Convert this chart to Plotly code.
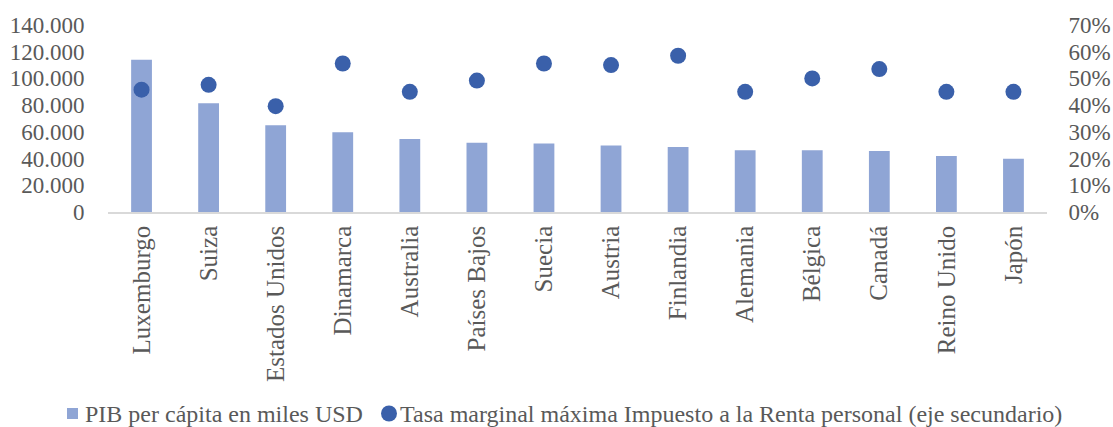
import plotly.graph_objects as go

paises = ["Luxemburgo", "Suiza", "Estados Unidos", "Dinamarca", "Australia", "Países Bajos",
          "Suecia", "Austria", "Finlandia", "Alemania", "Bélgica", "Canadá", "Reino Unido", "Japón"]
pib = [114000, 81500, 65000, 59700, 54700, 51900, 51200, 49700, 48700, 46200, 46200, 45700, 41900, 39900]
tasa = [0.458, 0.476, 0.396, 0.556, 0.45, 0.492, 0.556, 0.55, 0.585, 0.45, 0.50, 0.535, 0.45, 0.45]

y_ticks = [0, 20000, 40000, 60000, 80000, 100000, 120000, 140000]
y_ticktext = ["0", "20.000", "40.000", "60.000", "80.000", "100.000", "120.000", "140.000"]
y2_ticks = [0, 0.1, 0.2, 0.3, 0.4, 0.5, 0.6, 0.7]
y2_ticktext = ["0%", "10%", "20%", "30%", "40%", "50%", "60%", "70%"]

name_bar = "PIB per cápita en miles USD"
name_dot = "Tasa marginal máxima Impuesto a la Renta personal (eje secundario)"

FONT = "Liberation Serif"
TXT = "#595959"
BAR_C = "#8FA5D5"
DOT_C = "#3A60AA"

W, H = 1113, 427
L, R, T, B = 108, 66, 25, 215
PW, PH = W - L - R, H - T - B


def px(x):
    return (x - L) / PW


def py(y):
    return (H - B - y) / PH


fig = go.Figure()
fig.add_trace(go.Bar(x=paises, y=pib, name=name_bar, showlegend=False,
                     marker=dict(color=BAR_C, line=dict(width=0))))
fig.add_trace(go.Scatter(x=paises, y=tasa, yaxis="y2", mode="markers", name=name_dot,
                         showlegend=False, marker=dict(color=DOT_C, size=16)))

# legend drawn as key shapes + text
LEG_Y = 413.5
shapes = [
    dict(type="rect", xref="paper", yref="paper", x0=px(67), x1=px(78),
         y0=py(LEG_Y + 5.5), y1=py(LEG_Y - 5.5), fillcolor=BAR_C, line=dict(width=0)),
    dict(type="circle", xref="paper", yref="paper", x0=px(381), x1=px(397),
         y0=py(LEG_Y + 8), y1=py(LEG_Y - 8), fillcolor=DOT_C, line=dict(width=0)),
]
annotations = [
    dict(text=name_bar, xref="paper", yref="paper", x=px(83), y=py(LEG_Y), xanchor="left",
         yanchor="middle", showarrow=False, font=dict(size=24, color=TXT, family=FONT)),
    dict(text=name_dot, xref="paper", yref="paper", x=px(398), y=py(LEG_Y), xanchor="left",
         yanchor="middle", showarrow=False, font=dict(size=24, color=TXT, family=FONT)),
]

fig.update_layout(
    width=W, height=H,
    margin=dict(l=L, r=R, t=T, b=B, autoexpand=False),
    paper_bgcolor="white", plot_bgcolor="white",
    font=dict(family=FONT, size=23, color=TXT),
    bargap=0.69,
    showlegend=False,
    shapes=shapes,
    annotations=annotations,
    xaxis=dict(tickangle=-90, showline=True, linecolor="#D9D9D9", linewidth=1.5,
               range=[-0.5, len(paises) - 0.5],
               showgrid=False, ticks="outside", ticklen=2, tickcolor="rgba(0,0,0,0)",
               tickfont=dict(size=25, color=TXT), automargin=False),
    yaxis=dict(range=[0, 140000], tickvals=y_ticks, ticktext=y_ticktext, showgrid=False,
               zeroline=False, showline=False, ticks="outside", ticklen=18, tickcolor="rgba(0,0,0,0)",
               tickfont=dict(size=23, color=TXT), automargin=False),
    yaxis2=dict(range=[0, 0.7], tickvals=y2_ticks, ticktext=y2_ticktext, overlaying="y",
                side="right", showgrid=False, zeroline=False, showline=False,
                ticks="outside", ticklen=16, tickcolor="rgba(0,0,0,0)",
                tickfont=dict(size=23, color=TXT), automargin=False),
)

fig.write_html("out.html", config={"displayModeBar": False},
               post_script="document.body.style.margin='0';document.body.style.overflow='hidden';")
